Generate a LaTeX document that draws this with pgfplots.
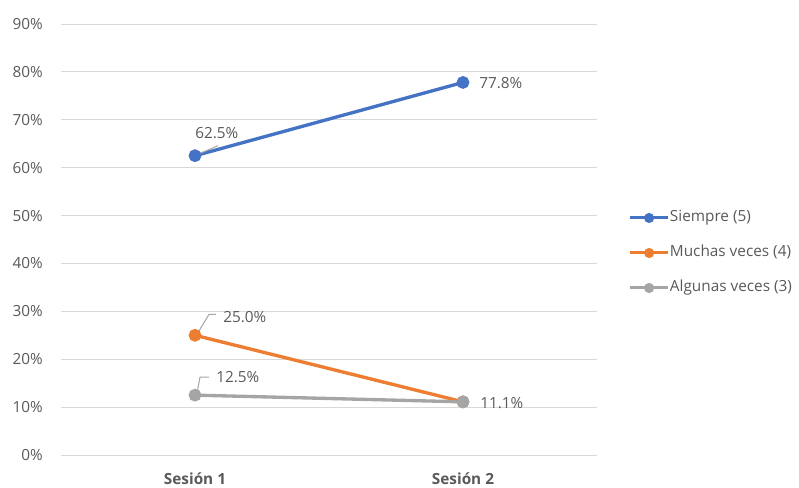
\documentclass[border=0pt]{standalone}
\usepackage{pgfplots}
\pgfplotsset{compat=1.18}
\usepackage{fontspec}
\setmainfont{Open Sans}

\definecolor{cBlue}{HTML}{4472C4}
\definecolor{cOrange}{HTML}{ED7D31}
\definecolor{cGray}{HTML}{A5A5A5}
\definecolor{txt}{HTML}{595959}
\definecolor{gridc}{HTML}{D9D9D9}
\definecolor{leader}{HTML}{A6A6A6}

\newcommand{\lblfont}{\fontsize{11.5}{13}\selectfont}

\begin{document}
\begin{tikzpicture}
\useasboundingbox (-45.75pt,-24pt) rectangle (553.5pt,341.25pt);
\begin{axis}[
  name=ax,
  at={(0,0)}, anchor=south west,
  scale only axis,
  width=402pt, height=323.25pt,
  xmin=-0.5, xmax=1.5,
  ymin=0, ymax=90,
  xtick={0,1},
  xticklabels={Sesión 1, Sesión 2},
  ytick={0,10,...,90},
  yticklabel={\pgfmathprintnumber{\tick}\%},
  /pgf/number format/assume math mode=true,
  ymajorgrids,
  grid style={draw=gridc, line width=0.75pt},
  axis line style={draw=none},
  major tick length=0pt,
  tick label style={font=\lblfont, text=txt},
  yticklabel style={inner sep=0pt, xshift=-13.5pt},
  xticklabel style={inner sep=0pt, yshift=-13pt, font=\lblfont\bfseries},
  legend style={
    draw=none, fill=none,
    at={(axis description cs:1.0504,0.4687)}, anchor=west,
    font=\lblfont, text=txt,
    nodes={inner sep=0pt, text height=8.5pt, text depth=2.5pt},
    row sep=15.25pt, column sep=0pt,
  },
  legend cell align=left,
  legend image code/.code={
    \draw[#1, line width=2.25pt, mark size=2.6pt, mark repeat=2, mark phase=2]
      plot coordinates {(0pt,0pt) (14.5pt,0pt) (29pt,0pt)};
  },
]
\addplot[cBlue, line width=2.5pt, mark=*, mark size=3.5pt, mark options={fill=cBlue}]
  coordinates {(0,62.5) (1,77.8)};
\addlegendentry{Siempre (5)}
\addplot[cOrange, line width=2.5pt, mark=*, mark size=3.5pt, mark options={fill=cOrange}]
  coordinates {(0,25.0) (1,11.1)};
\addlegendentry{Muchas veces (4)}
\addplot[cGray, line width=2.5pt, mark=*, mark size=3.5pt, mark options={fill=cGray}]
  coordinates {(0,12.5) (1,11.1)};
\addlegendentry{Algunas veces (3)}

% value labels with their leader lines
\begin{scope}[every node/.style={inner sep=0pt, text=txt, font=\lblfont}]
  \draw[leader, line width=0.75pt] ([xshift=1.5pt,yshift=0.75pt]axis cs:0,62.5) -- ([xshift=17.25pt,yshift=7.5pt]axis cs:0,62.5);
  \node[anchor=west] at ([xshift=0pt,yshift=17.25pt]axis cs:0,62.5) {62.5\%};
  \node[anchor=west] at ([xshift=12pt,yshift=-0.75pt]axis cs:1,77.8) {77.8\%};

  \draw[leader, line width=0.75pt] ([xshift=1.5pt,yshift=0.75pt]axis cs:0,25.0) -- ([xshift=10.5pt,yshift=15.75pt]axis cs:0,25.0) -- ([xshift=15.75pt,yshift=15.75pt]axis cs:0,25.0);
  \node[anchor=west] at ([xshift=21pt,yshift=13.5pt]axis cs:0,25.0) {25.0\%};

  \draw[leader, line width=0.75pt] ([xshift=1.5pt,yshift=1.5pt]axis cs:0,12.5) -- ([xshift=3.75pt,yshift=13.5pt]axis cs:0,12.5) -- ([xshift=10.5pt,yshift=13.5pt]axis cs:0,12.5);
  \node[anchor=west] at ([xshift=15.75pt,yshift=13.5pt]axis cs:0,12.5) {12.5\%};

  \node[anchor=west] at ([xshift=12.75pt,yshift=-0.75pt]axis cs:1,11.1) {11.1\%};
\end{scope}
\end{axis}
\end{tikzpicture}
\end{document}
